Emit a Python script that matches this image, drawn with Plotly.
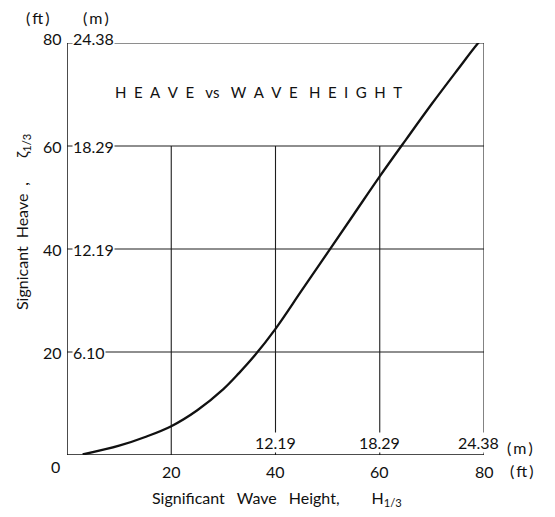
import plotly.graph_objects as go

# Heave response curve (feet)
wave_ft = [3, 10, 15, 20, 25, 30, 33, 36, 40, 45, 50, 55, 60, 65, 70, 75, 78.8, 80.7]
heave_ft = [0.1, 1.8, 3.5, 5.6, 8.7, 12.8, 15.9, 19.3, 24.5, 31.9, 39.3, 46.7, 54.1, 61.2, 68.2, 74.9, 79.9, 82.0]

# Tick values and labels
ft_ticks = [20, 40, 60, 80]
y_m_labels = ["6.10", "12.19", "18.29", "24.38"]
x_m_ticks = [40, 60, 80]
x_m_labels = ["12.19", "18.29", "24.38"]

# Vertical grid line extents (top end in ft)
vgrid_top = [60, 60, 60, 80]

FONT = "Lato"
INK = "#111111"
GRID = "#1e1e1e"

W, H = 555, 517
L, R, T, B = 67, 484, 43, 455


def px(x):
    return (x - L) / (R - L)


def py(y):
    return (B - y) / (B - T)


fig = go.Figure()

# horizontal grid lines at each ft tick
for v in ft_ticks:
    fig.add_trace(go.Scatter(x=[0, 80], y=[v, v], mode="lines",
                             line=dict(color=GRID, width=1.1), hoverinfo="skip"))
# vertical grid lines
for v, top in zip(ft_ticks, vgrid_top):
    fig.add_trace(go.Scatter(x=[v, v], y=[0, top], mode="lines",
                             line=dict(color=GRID, width=1.1), hoverinfo="skip"))
# axes
fig.add_trace(go.Scatter(x=[0, 0], y=[0, 80], mode="lines",
                         line=dict(color=INK, width=1.5), hoverinfo="skip"))
fig.add_trace(go.Scatter(x=[0, 80], y=[0, 0], mode="lines",
                         line=dict(color=INK, width=1.5), hoverinfo="skip"))

# heave curve
fig.add_trace(go.Scatter(x=wave_ft, y=heave_ft, mode="lines",
                         line=dict(color=INK, width=2.3, shape="spline", smoothing=1.0),
                         cliponaxis=False, hoverinfo="skip"))

ann = []
tf = dict(family=FONT, size=16, color=INK)


def label(x, y, text, **kw):
    d = dict(x=px(x), y=py(y), xref="paper", yref="paper", text=text,
             showarrow=False, xanchor="center", yanchor="middle", font=tf)
    d.update(kw)
    ann.append(d)


# y ticks (ft, outside) and (m, inside)
for v, lab in zip(ft_ticks, y_m_labels):
    ys = 5 if v == 80 else 0
    ann.append(dict(x=0, y=v, xref="x", yref="y", text=str(v), showarrow=False,
                    xanchor="right", yanchor="middle", xshift=-3, yshift=ys, font=tf))
    ann.append(dict(x=0, y=v, xref="x", yref="y", text=lab, showarrow=False,
                    xanchor="left", yanchor="middle", xshift=5, yshift=ys, font=tf,
                    bgcolor="white", borderpad=0))

# x ticks (ft, below) and (m, above)
for v in ft_ticks:
    ann.append(dict(x=v, y=0, xref="x", yref="y", text=str(v), showarrow=False,
                    xanchor="center", yanchor="top", yshift=-5, font=tf))
for v, lab in zip(x_m_ticks, x_m_labels):
    xs = -6 if v == 80 else 0
    ann.append(dict(x=v, y=0, xref="x", yref="y", text=lab, showarrow=False,
                    xanchor="center", yanchor="bottom", yshift=2, xshift=xs, font=tf,
                    bgcolor="white", borderpad=0))

# origin label
label(55, 466, "0")

# unit labels
label(520, 447, "(\u2009m\u2009)")
label(522, 470, "(\u2009ft\u2009)")
label(38, 17, "(\u2009ft\u2009)")
label(96, 17, "(\u2009m\u2009)")

# chart title
sp = "\u2002"
title = sp.join("HEAVE") + "\u2003" + "vs" + "\u2003" + sp.join("WAVE") + "\u2003" + sp.join("HEIGHT")
label(258, 92, title, font=dict(family=FONT, size=15, color=INK))

# axis titles
label(277, 498, "Significant\u2003Wave\u2003Height,\u2003\u2003\u2002H<sub>1/3</sub>")
label(22, 222, "Signicant\u2002Heave\u2002,\u2003\u2003\u03b6<sub>1/3</sub>", textangle=-90)

fig.update_layout(
    width=W, height=H,
    margin=dict(l=L, r=W - R, t=T, b=H - B),
    paper_bgcolor="white", plot_bgcolor="white",
    showlegend=False,
    annotations=ann,
    xaxis=dict(range=[0, 80], visible=False, fixedrange=True),
    yaxis=dict(range=[0, 80], visible=False, fixedrange=True),
)

fig.write_html("out.html")
